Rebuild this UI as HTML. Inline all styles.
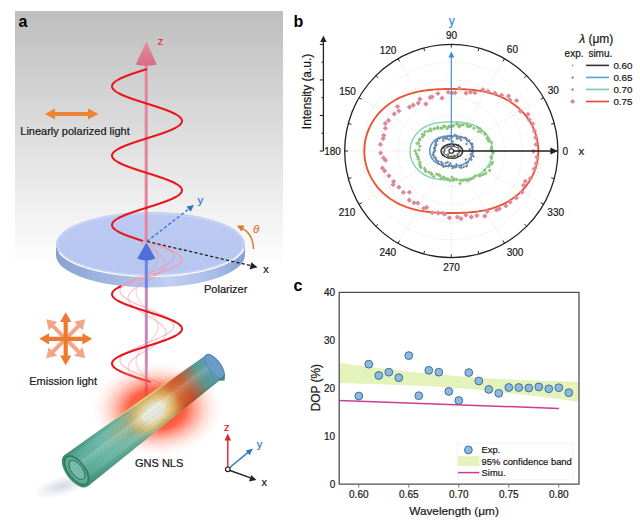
<!DOCTYPE html><html><head><meta charset="utf-8"><style>html,body{margin:0;padding:0;background:#fff;}svg{display:block}</style></head><body><svg width="640" height="528" viewBox="0 0 640 528"><rect width="640" height="528" fill="#fff"/><defs><linearGradient id="bgA" x1="0" y1="0" x2="0" y2="1"><stop offset="0" stop-color="#bebebe"/><stop offset="1" stop-color="#ffffff"/></linearGradient><linearGradient id="rim" x1="0" y1="0" x2="1" y2="0"><stop offset="0" stop-color="#88a2d2"/><stop offset="0.3" stop-color="#a4b8e4"/><stop offset="0.6" stop-color="#c0cef2"/><stop offset="0.85" stop-color="#a8bce6"/><stop offset="1" stop-color="#86a0d0"/></linearGradient><linearGradient id="face" x1="0" y1="0" x2="0" y2="1"><stop offset="0" stop-color="#bccaf2"/><stop offset="1" stop-color="#b6c6f0"/></linearGradient><linearGradient id="zhead" x1="0" y1="0" x2="0" y2="1"><stop offset="0" stop-color="#e68aa0"/><stop offset="1" stop-color="#d86c86"/></linearGradient><radialGradient id="glow" cx="0.5" cy="0.5" r="0.5"><stop offset="0" stop-color="#ff2400" stop-opacity="0.95"/><stop offset="0.42" stop-color="#ff3818" stop-opacity="0.78"/><stop offset="0.72" stop-color="#ff8a70" stop-opacity="0.3"/><stop offset="1" stop-color="#ffffff" stop-opacity="0"/></radialGradient><radialGradient id="shadow" cx="0.5" cy="0.5" r="0.5"><stop offset="0" stop-color="#7a8aa8" stop-opacity="0.32"/><stop offset="1" stop-color="#7a8aa8" stop-opacity="0"/></radialGradient><linearGradient id="edgeHi" x1="40" y1="0" x2="150" y2="0" gradientUnits="userSpaceOnUse"><stop offset="0" stop-color="#f0e080" stop-opacity="0"/><stop offset="0.5" stop-color="#f8e890" stop-opacity="0.9"/><stop offset="1" stop-color="#f0e080" stop-opacity="0"/></linearGradient><radialGradient id="warm" cx="0.5" cy="0.5" r="0.5"><stop offset="0" stop-color="#e8a040" stop-opacity="0.5"/><stop offset="0.6" stop-color="#d89048" stop-opacity="0.3"/><stop offset="1" stop-color="#d89048" stop-opacity="0"/></radialGradient><radialGradient id="hot" cx="0.5" cy="0.5" r="0.5"><stop offset="0" stop-color="#ffffff" stop-opacity="1"/><stop offset="0.4" stop-color="#fffbe6" stop-opacity="0.95"/><stop offset="0.72" stop-color="#ffdc88" stop-opacity="0.55"/><stop offset="1" stop-color="#ffb040" stop-opacity="0"/></radialGradient><linearGradient id="tubeAlong" x1="0" y1="0" x2="1" y2="0"><stop offset="0.000" stop-color="#56b09a"/><stop offset="0.207" stop-color="#74c4b4"/><stop offset="0.374" stop-color="#84ccbc"/><stop offset="0.443" stop-color="#b0cca2"/><stop offset="0.506" stop-color="#f2e2a8"/><stop offset="0.621" stop-color="#f8d488"/><stop offset="0.672" stop-color="#f6a050"/><stop offset="0.724" stop-color="#f05a24"/><stop offset="0.787" stop-color="#e04c2a"/><stop offset="0.851" stop-color="#9a7c6a"/><stop offset="0.902" stop-color="#5ca49a"/><stop offset="0.966" stop-color="#5ea4b4"/><stop offset="1.000" stop-color="#5a8ad0"/></linearGradient><linearGradient id="tubeAcross" x1="0" y1="0" x2="0" y2="1"><stop offset="0" stop-color="#1e5a40" stop-opacity="0.35"/><stop offset="0.18" stop-color="#1e5a40" stop-opacity="0"/><stop offset="0.42" stop-color="#ffffff" stop-opacity="0.2"/><stop offset="0.75" stop-color="#1e5a40" stop-opacity="0"/><stop offset="1" stop-color="#1e5a40" stop-opacity="0.42"/></linearGradient><pattern id="mesh" width="3" height="5.2" patternUnits="userSpaceOnUse"><path d="M0,0.87 L1,0 L2,0 L3,0.87 M1.5,2.6 L0.5,3.47 L0,3.47 M1.5,2.6 L2.5,3.47 L3,3.47 M0,0.87 L0,1.73 L1.5,2.6 M3,0.87 L3,1.73 L1.5,2.6 M0.5,3.47 L0.5,4.33 L1,5.2 M2.5,3.47 L2.5,4.33 L2,5.2" fill="none" stroke="#0e3a28" stroke-opacity="0.22" stroke-width="0.5"/></pattern></defs><rect x="15" y="11" width="268" height="256" fill="url(#bgA)"/><text x="18.5" y="27" font-family="Liberation Sans, sans-serif" font-size="16" font-weight="bold" fill="#000">a</text><path d="M45,114 L55,108.5 L55,112 L88,112 L88,108.5 L98.5,114 L88,119.5 L88,116 L55,116 L55,119.5 Z" fill="#ee8236"/><text x="20.3" y="135.2" font-family="Liberation Sans, sans-serif" font-size="11" fill="#1a1a1a" stroke="#1a1a1a" stroke-width="0.22">Linearly polarized light</text><path d="M56,244.2 L56,255.2 A94.5,32.2 0 0 0 245,255.2 L245,244.2 A94.5,32.2 0 0 1 56,244.2 Z" fill="url(#rim)"/><ellipse cx="150.5" cy="244.2" rx="94.5" ry="32.2" fill="url(#face)"/><ellipse cx="150.5" cy="244.2" rx="92.9" ry="30.6" fill="none" stroke="#cbd6f6" stroke-width="1.6" stroke-opacity="0.8"/><path d="M59.22,252.53 A94.5,32.2 0 0 0 244.08,248.68" fill="none" stroke="#ffffff" stroke-width="1.4" stroke-opacity="0.95"/><path d="M144.62,241.5 L147.79,242.5 L150.96,243.5 L154.09,244.5 L157.16,245.5 L160.16,246.5 L163.04,247.5 L165.79,248.5 L168.39,249.5 L170.81,250.5 L173.03,251.5 L175.04,252.5 L176.82,253.5 L178.36,254.5 L179.64,255.5 L180.65,256.5 L181.38,257.5 L181.83,258.5 L182,259.5 L181.88,260.5 L181.47,261.5 L180.78,262.5 L179.81,263.5 L178.57,264.5 L177.07,265.5 L175.32,266.5 L173.35,267.5 L171.15,268.5 L168.76,269.5 L166.19,270.5 L163.46,271.5 L160.6,272.5 L157.62,273.5 L154.56,274.5 L151.43,275.5 L148.27,276.5 L145.1,277.5 L141.94,278.5 L138.83,279.5 L135.78,280.5 L132.82,281.5 L129.98,282.5 L127.28,283.5 L124.75,284.5 L122.39,285.5" fill="none" stroke="#f2a0b2" stroke-width="1.5"/><path d="M156.21,243 L158.47,244 L160.63,245 L162.69,246 L164.61,247 L166.39,248 L168.01,249 L169.46,250 L170.73,251 L171.8,252 L172.66,253 L173.32,254 L173.76,255 L173.97,256 L173.97,257 L173.75,258 L173.3,259 L172.64,260 L171.77,261 L170.7,262 L169.43,263 L167.97,264 L166.35,265 L164.56,266 L162.64,267 L160.58,268 L158.41,269 L156.15,270 L153.81,271 L151.42,272 L148.99,273 L146.54,274 L144.1,275 L141.68,276 L139.3,277 L136.99,278 L134.76,279 L132.63,280 L130.62,281 L128.75,282 L127.02,283 L125.46,284 L124.07,285 L122.88,286 L121.88,287 L121.08,288 L120.51,289 L120.14,290 L120,291 L120.08,292 L120.38,293 L120.9,294 L121.64,295 L122.58,296 L123.73,297 L125.06,298 L126.58,299 L128.26,300 L130.1,301 L132.07,302 L134.17,303 L136.37,304 L138.66,305 L141.02,306 L143.43,307 L145.87,308 L148.32,309 L150.75,310 L153.16,311 L155.51,312 L157.8,313 L159.99,314 L162.08,315 L164.05,316 L165.88,317 L167.55,318 L169.05,319 L170.37,320 L171.5,321 L172.42,322 L173.14,323 L173.65,324 L173.93,325 L173.99,326 L173.84,327 L173.46,328 L172.86,329 L172.05,330 L171.04,331 L169.83,332 L168.43,333 L166.85,334 L165.12,335 L163.23,336 L161.21,337 L159.07,338 L156.83,339 L154.52,340 L152.14,341 L149.72,342 L147.27,343 L144.83,344 L142.4,345 L140.01,346 L137.68,347 L135.42,348 L133.26,349 L131.21,350 L129.29,351 L127.52,352 L125.91,353 L124.47,354 L123.21,355 L122.16,356 L121.3,357 L120.66,358 L120.23,359 L120.02,360 L120.04,361 L120.27,362 L120.73,363 L121.4,364 L122.28,365 L123.36,366 L124.64,367 L126.1,368 L127.74,369 L129.53,370 L131.46,371 L133.53,372 L135.7,373 L137.97,374 L140.31,375 L142.71,376 L145.14,377 L147.58,378 L150.02,379 L152.44,380 L154.81,381 L157.12,382 L159.35,383 L161.47,384" fill="none" stroke="#f4909e" stroke-width="1.1" stroke-opacity="0.6"/><path d="M141.71,243 L143.39,244 L145.09,245 L146.81,246 L148.53,247 L150.24,248 L151.92,249 L153.56,250 L155.15,251 L156.67,252 L158.11,253 L159.46,254 L160.71,255 L161.84,256 L162.86,257 L163.74,258 L164.48,259 L165.09,260 L165.54,261 L165.84,262 L165.99,263 L165.98,264 L165.81,265 L165.49,266 L165.02,267 L164.4,268 L163.63,269 L162.73,270 L161.7,271 L160.55,272 L159.29,273 L157.93,274 L156.48,275 L154.95,276 L153.35,277 L151.71,278 L150.02,279 L148.31,280 L146.59,281 L144.87,282 L143.17,283 L141.5,284 L139.87,285 L138.31,286 L136.82,287 L135.4,288 L134.09,289 L132.88,290 L131.79,291 L130.82,292 L129.98,293 L129.29,294 L128.74,295 L128.34,296 L128.09,297 L128,298 L128.07,299 L128.29,300 L128.66,301 L129.18,302 L129.86,303 L130.67,304 L131.61,305 L132.69,306 L133.88,307 L135.17,308 L136.57,309 L138.05,310 L139.6,311 L141.22,312 L142.88,313 L144.58,314 L146.29,315 L148.02,316 L149.73,317 L151.42,318 L153.08,319 L154.68,320 L156.22,321 L157.69,322 L159.07,323 L160.35,324 L161.52,325 L162.57,326 L163.49,327 L164.28,328 L164.92,329 L165.42,330 L165.77,331 L165.96,332 L165.99,333 L165.88,334 L165.6,335 L165.17,336 L164.6,337 L163.88,338 L163.02,339 L162.03,340 L160.91,341 L159.68,342 L158.35,343 L156.92,344 L155.41,345 L153.84,346 L152.2,347 L150.53,348 L148.82,349 L147.1,350 L145.38,351 L143.68,352 L142,353 L140.36,354 L138.77,355 L137.26,356 L135.82,357 L134.47,358 L133.23,359 L132.1,360 L131.1,361 L130.22,362 L129.48,363 L128.89,364 L128.44,365 L128.15,366 L128.01,367 L128.03,368 L128.2,369 L128.53,370 L129.01,371 L129.64,372 L130.41,373 L131.32,374 L132.35,375 L133.51,376 L134.77,377 L136.14,378 L137.6,379 L139.13,380 L140.73,381 L142.38,382 L144.07,383 L145.78,384" fill="none" stroke="#f4909e" stroke-width="1.1" stroke-opacity="0.55"/><path d="M149.91,243 L150.86,244 L151.78,245 L152.66,246 L153.49,247 L154.26,248 L154.98,249 L155.63,250 L156.22,251 L156.72,252 L157.15,253 L157.49,254 L157.75,255 L157.92,256 L157.99,257 L157.98,258 L157.88,259 L157.69,260 L157.41,261 L157.04,262 L156.6,263 L156.07,264 L155.47,265 L154.8,266 L154.07,267 L153.27,268 L152.43,269 L151.54,270 L150.62,271 L149.66,272 L148.68,273 L147.69,274 L146.69,275 L145.7,276 L144.72,277 L143.75,278 L142.81,279 L141.91,280 L141.05,281 L140.23,282 L139.48,283 L138.78,284 L138.15,285 L137.6,286 L137.12,287 L136.72,288 L136.41,289 L136.18,290 L136.05,291 L136,292 L136.04,293 L136.18,294 L136.4,295 L136.71,296 L137.1,297 L137.58,298 L138.13,299 L138.76,300 L139.45,301 L140.2,302 L141.02,303 L141.88,304 L142.78,305 L143.72,306 L144.68,307 L145.66,308 L146.66,309 L147.65,310 L148.65,311 L149.62,312 L150.58,313 L151.51,314 L152.4,315 L153.24,316 L154.04,317 L154.77,318 L155.45,319 L156.05,320 L156.58,321 L157.03,322 L157.4,323 L157.68,324 L157.87,325 L157.98,326 L158,327 L157.92,328 L157.76,329 L157.5,330 L157.16,331 L156.74,332 L156.24,333 L155.66,334 L155.01,335 L154.29,336 L153.52,337 L152.69,338 L151.81,339 L150.9,340 L149.95,341 L148.98,342 L147.99,343 L146.99,344 L146,345 L145.01,346 L144.04,347 L143.09,348 L142.18,349 L141.3,350 L140.47,351 L139.7,352 L138.98,353 L138.33,354 L137.76,355 L137.25,356 L136.83,357 L136.49,358 L136.24,359 L136.08,360 L136,361 L136.02,362 L136.13,363 L136.32,364 L136.61,365 L136.98,366 L137.43,367 L137.96,368 L138.56,369 L139.23,370 L139.97,371 L140.77,372 L141.61,373 L142.5,374 L143.43,375 L144.39,376 L145.37,377 L146.36,378 L147.35,379 L148.35,380 L149.33,381 L150.3,382 L151.23,383 L152.13,384" fill="none" stroke="#f4909e" stroke-width="1.1" stroke-opacity="0.45"/><line x1="146.3" y1="258" x2="146.3" y2="288" stroke="#6e86e0" stroke-width="3"/><line x1="146.2" y1="62" x2="146.2" y2="241.5" stroke="#e5849c" stroke-width="3"/><path d="M146.4,41.4 L135.8,64.5 Q146.3,67 156.8,64.5 Z" fill="url(#zhead)"/><text x="157.8" y="45" font-family="Liberation Sans, sans-serif" font-size="11" fill="#e0303a" stroke="#e0303a" stroke-width="0.22">z</text><path d="M147,69 L143.83,70 L140.69,71 L137.6,72 L134.58,73 L131.67,74 L128.89,75 L126.25,76 L123.78,77 L121.51,78 L119.44,79 L117.6,80 L116,81 L114.66,82 L113.58,83 L112.77,84 L112.25,85 L112.02,86 L112.07,87 L112.4,88 L113.02,89 L113.92,90 L115.1,91 L116.53,92 L118.22,93 L120.14,94 L122.28,95 L124.62,96 L127.15,97 L129.84,98 L132.68,99 L135.63,100 L138.67,101 L141.78,102 L144.94,103 L148.11,104 L151.27,105 L154.4,106 L157.47,107 L160.45,108 L163.32,109 L166.06,110 L168.64,111 L171.04,112 L173.24,113 L175.23,114 L176.99,115 L178.5,116 L179.75,117 L180.73,118 L181.44,119 L181.86,120 L182,121 L181.85,122 L181.41,123 L180.69,124 L179.7,125 L178.43,126 L176.91,127 L175.14,128 L173.14,129 L170.92,130 L168.51,131 L165.92,132 L163.18,133 L160.3,134 L157.32,135 L154.25,136 L151.12,137 L147.95,138 L144.78,139 L141.63,140 L138.52,141 L135.48,142 L132.53,143 L129.71,144 L127.02,145 L124.5,146 L122.17,147 L120.04,148 L118.13,149 L116.45,150 L115.03,151 L113.87,152 L112.99,153 L112.38,154 L112.06,155 L112.02,156 L112.27,157 L112.81,158 L113.63,159 L114.72,160 L116.07,161 L117.69,162 L119.54,163 L121.61,164 L123.9,165 L126.38,166 L129.02,167 L131.81,168 L134.73,169 L137.75,170 L140.84,171 L143.99,172 L147.16,173 L150.33,174 L153.47,175 L156.56,176 L159.57,177 L162.47,178 L165.25,179 L167.88,180 L170.34,181 L172.6,182 L174.66,183 L176.49,184 L178.07,185 L179.4,186 L180.47,187 L181.26,188 L181.77,189 L181.99,190 L181.92,191 L181.57,192 L180.94,193 L180.02,194 L178.84,195 L177.39,196 L175.69,197 L173.76,198 L171.61,199 L169.25,200 L166.72,201 L164.02,202 L161.18,203 L158.22,204 L155.17,205 L152.06,206 L148.9,207 L145.73,208 L142.57,209 L139.44,210 L136.38,211 L133.4,212 L130.54,213 L127.81,214 L125.24,215 L122.85,216 L120.65,217 L118.68,218 L116.93,219 L115.43,220 L114.19,221 L113.22,222 L112.53,223 L112.12,224 L112,225 L112.17,226 L112.62,227 L113.35,228 L114.36,229 L115.64,230 L117.18,231 L118.96,232 L120.97,233 L123.19,234 L125.61,235 L128.21,236 L130.96,237 L133.84,238 L136.84,239 L139.91,240 L143.04,241" fill="none" stroke="#e8161c" stroke-width="2"/><path d="M146.4,242.5 L137.2,258.6 Q146.3,262.5 155.5,258.6 Z" fill="#4e6fd6"/><line x1="147" y1="241.4" x2="251.5" y2="265.8" stroke="#222" stroke-width="1.3" stroke-dasharray="3.2,2.2"/><path d="M257.5,267.2 L249.6,269.4 L251.3,262.2 Z" fill="#222"/><line x1="147" y1="241.4" x2="189.6" y2="208.3" stroke="#2d76c8" stroke-width="1.3" stroke-dasharray="3.2,2.2"/><path d="M194,205 L190.6,211.8 L186.6,206.6 Z" fill="#2d76c8"/><text x="197.6" y="203.6" font-family="Liberation Sans, sans-serif" font-size="11.5" fill="#2d76c8" stroke="#2d76c8" stroke-width="0.22">y</text><text x="263.2" y="272.5" font-family="Liberation Sans, sans-serif" font-size="11" fill="#222" stroke="#222" stroke-width="0.22">x</text><path d="M253.5,249 Q253,233 241,228" fill="none" stroke="#d87a30" stroke-width="1.4"/><path d="M237,225.5 L244.5,225.6 L241.3,231.5 Z" fill="#d87a30"/><text x="253" y="233.3" font-family="Liberation Sans, sans-serif" font-size="11.5" font-style="italic" fill="#d87a30" stroke="#d87a30" stroke-width="0.22">θ</text><text x="204" y="293.4" font-family="Liberation Sans, sans-serif" font-size="11" fill="#1a1a1a" stroke="#1a1a1a" stroke-width="0.22">Polarizer</text><line x1="146.3" y1="288" x2="146.3" y2="398" stroke="#e08aa8" stroke-width="3"/><line x1="146.3" y1="288" x2="146.3" y2="398" stroke="#9a88dc" stroke-width="1"/><path d="M121.29,286 L119.24,287 L117.43,288 L115.85,289 L114.54,290 L113.49,291 L112.71,292 L112.22,293 L112.01,294 L112.09,295 L112.45,296 L113.1,297 L114.03,298 L115.23,299 L116.69,300 L118.4,301 L120.34,302 L122.5,303 L124.87,304 L127.42,305 L130.12,306 L132.97,307 L135.93,308 L138.98,309 L142.1,310 L145.26,311 L148.43,312 L151.59,313 L154.71,314 L157.77,315 L160.74,316 L163.6,317 L166.32,318 L168.88,319 L171.27,320 L173.45,321 L175.42,322 L177.15,323 L178.64,324 L179.86,325 L180.82,326 L181.5,327 L181.89,328 L182,329 L181.82,330 L181.35,331 L180.6,332 L179.58,333 L178.29,334 L176.74,335 L174.95,336 L172.92,337 L170.69,338 L168.26,339 L165.65,340 L162.9,341 L160.01,342 L157.01,343 L153.94,344 L150.8,345 L147.63,346 L144.46,347 L141.31,348 L138.21,349 L135.18,350 L132.24,351 L129.43,352 L126.76,353 L124.26,354 L121.94,355 L119.83,356 L117.95,357 L116.3,358 L114.9,359 L113.77,360 L112.91,361 L112.33,362 L112.04,363 L112.03,364 L112.31,365 L112.88,366 L113.72,367 L114.84,368 L116.22,369 L117.86,370 L119.74,371 L121.83,372 L124.14,373 L126.63,374 L129.29,375 L132.1,376 L135.03,377 L138.06,378 L141.16,379 L144.31,380 L147.48,381 L150.64,382" fill="none" stroke="#e8161c" stroke-width="2"/><path transform="translate(65.7,338.8) rotate(45)" d="M0,-2.0 L18.0,-2.0 L18.0,-6.0 L27.5,0 L18.0,6.0 L18.0,2.0 L0,2.0 Z" fill="#f3a585"/><path transform="translate(65.7,338.8) rotate(135)" d="M0,-2.0 L18.0,-2.0 L18.0,-6.0 L27.5,0 L18.0,6.0 L18.0,2.0 L0,2.0 Z" fill="#f3a585"/><path transform="translate(65.7,338.8) rotate(225)" d="M0,-2.0 L18.0,-2.0 L18.0,-6.0 L27.5,0 L18.0,6.0 L18.0,2.0 L0,2.0 Z" fill="#f3a585"/><path transform="translate(65.7,338.8) rotate(315)" d="M0,-2.0 L18.0,-2.0 L18.0,-6.0 L27.5,0 L18.0,6.0 L18.0,2.0 L0,2.0 Z" fill="#f3a585"/><path transform="translate(65.7,338.8) rotate(0)" d="M0,-2.1 L16.7,-2.1 L16.7,-5.6 L26.5,0 L16.7,5.6 L16.7,2.1 L0,2.1 Z" fill="#ef7a2e"/><path transform="translate(65.7,338.8) rotate(90)" d="M0,-2.1 L16.7,-2.1 L16.7,-5.6 L26.5,0 L16.7,5.6 L16.7,2.1 L0,2.1 Z" fill="#ef7a2e"/><path transform="translate(65.7,338.8) rotate(180)" d="M0,-2.1 L16.7,-2.1 L16.7,-5.6 L26.5,0 L16.7,5.6 L16.7,2.1 L0,2.1 Z" fill="#ef7a2e"/><path transform="translate(65.7,338.8) rotate(270)" d="M0,-2.1 L16.7,-2.1 L16.7,-5.6 L26.5,0 L16.7,5.6 L16.7,2.1 L0,2.1 Z" fill="#ef7a2e"/><text x="29.2" y="385.3" font-family="Liberation Sans, sans-serif" font-size="11" fill="#1a1a1a" stroke="#1a1a1a" stroke-width="0.22">Emission light</text><ellipse cx="157" cy="409" rx="68" ry="49" fill="url(#glow)"/><ellipse cx="0" cy="0" rx="30" ry="10" transform="translate(62,486) rotate(-15)" fill="url(#shadow)"/><g transform="translate(76,470.7) rotate(-37)"><path d="M0,-19.5 L174,-14 L174,14 L0,19.5 Z" fill="url(#tubeAlong)"/><ellipse cx="100" cy="-4" rx="62" ry="19" fill="url(#warm)"/><ellipse cx="97.5" cy="0" rx="30" ry="17" fill="url(#hot)"/><path d="M0,-19.5 L174,-14 L174,14 L0,19.5 Z" fill="url(#tubeAcross)"/><path d="M0,-19.5 L174,-14 L174,14 L0,19.5 Z" fill="url(#mesh)"/><path d="M40,-18.2 L150,-14.8" stroke="url(#edgeHi)" stroke-width="1.6" fill="none"/><ellipse cx="173.5" cy="0" rx="6" ry="14" fill="#6a9cc4" stroke="#5a88cc" stroke-width="1.3"/><path d="M168,14 L177,12.5 L173,17.5 Z" fill="#3e8a62"/><ellipse cx="0" cy="0" rx="9.9" ry="19.5" fill="#40946e"/><ellipse cx="0.6" cy="0" rx="8.2" ry="16.5" fill="#62b49c" stroke="#2a6e50" stroke-width="0.9"/><ellipse cx="1.2" cy="0" rx="5.6" ry="11.2" fill="#7cc6b6" stroke="#2a6e50" stroke-width="0.9"/><ellipse cx="0" cy="0" rx="9.9" ry="19.5" fill="url(#mesh)"/></g><text x="135" y="466.8" font-family="Liberation Sans, sans-serif" font-size="11" fill="#1a1a1a" stroke="#1a1a1a" stroke-width="0.22">GNS NLS</text><line x1="227.8" y1="467" x2="227.8" y2="439" stroke="#e0202a" stroke-width="1.4"/><path d="M227.8,433.5 L231,440.5 L224.6,440.5 Z" fill="#e0202a"/><line x1="229.5" y1="467.8" x2="249" y2="451.6" stroke="#2a7ac8" stroke-width="1.4"/><path d="M253,448.6 L249.6,455.2 L245.8,450.4 Z" fill="#2a7ac8"/><line x1="230" y1="470.5" x2="250.5" y2="477.8" stroke="#222" stroke-width="1.4"/><path d="M256.5,480 L249,481.6 L251.2,475 Z" fill="#222"/><circle cx="227.8" cy="469.3" r="2.3" fill="#fff" stroke="#222" stroke-width="1.2"/><text x="224" y="431.4" font-family="Liberation Sans, sans-serif" font-size="11" fill="#e0202a" stroke="#e0202a" stroke-width="0.22">z</text><text x="256.8" y="448" font-family="Liberation Sans, sans-serif" font-size="11" fill="#2a7ac8" stroke="#2a7ac8" stroke-width="0.22">y</text><text x="261.4" y="486" font-family="Liberation Sans, sans-serif" font-size="11" fill="#222" stroke="#222" stroke-width="0.22">x</text><text x="293.6" y="26.8" font-family="Liberation Sans, sans-serif" font-size="16" font-weight="bold" fill="#000">b</text><line x1="323.4" y1="39" x2="323.4" y2="151" stroke="#222" stroke-width="1.3"/><path d="M323.4,35.5 L326.6,42 L320.2,42 Z" fill="#222"/><line x1="319.8" y1="151" x2="323.4" y2="151" stroke="#222" stroke-width="1.1"/><line x1="321.6" y1="133.23" x2="323.4" y2="133.23" stroke="#222" stroke-width="1.1"/><line x1="319.8" y1="115.47" x2="323.4" y2="115.47" stroke="#222" stroke-width="1.1"/><line x1="321.6" y1="97.7" x2="323.4" y2="97.7" stroke="#222" stroke-width="1.1"/><line x1="319.8" y1="79.93" x2="323.4" y2="79.93" stroke="#222" stroke-width="1.1"/><line x1="321.6" y1="62.17" x2="323.4" y2="62.17" stroke="#222" stroke-width="1.1"/><line x1="319.8" y1="44.4" x2="323.4" y2="44.4" stroke="#222" stroke-width="1.1"/><text transform="translate(311,91.5) rotate(-90)" text-anchor="middle" font-family="Liberation Sans, sans-serif" font-size="11.9" fill="#1a1a1a" stroke="#1a1a1a" stroke-width="0.22">Intensity (a.u.)</text><circle cx="451.3" cy="151.0" r="17.77" fill="none" stroke="#d0d0d0" stroke-width="0.7" stroke-dasharray="1.2,2.2"/><circle cx="451.3" cy="151.0" r="35.53" fill="none" stroke="#d0d0d0" stroke-width="0.7" stroke-dasharray="1.2,2.2"/><circle cx="451.3" cy="151.0" r="53.3" fill="none" stroke="#d0d0d0" stroke-width="0.7" stroke-dasharray="1.2,2.2"/><circle cx="451.3" cy="151.0" r="71.07" fill="none" stroke="#d0d0d0" stroke-width="0.7" stroke-dasharray="1.2,2.2"/><circle cx="451.3" cy="151.0" r="88.83" fill="none" stroke="#d0d0d0" stroke-width="0.7" stroke-dasharray="1.2,2.2"/><line x1="451.3" y1="151.0" x2="557.9" y2="151" stroke="#d0d0d0" stroke-width="0.7" stroke-dasharray="1.2,2.2"/><line x1="451.3" y1="151.0" x2="543.62" y2="97.7" stroke="#d0d0d0" stroke-width="0.7" stroke-dasharray="1.2,2.2"/><line x1="451.3" y1="151.0" x2="504.6" y2="58.68" stroke="#d0d0d0" stroke-width="0.7" stroke-dasharray="1.2,2.2"/><line x1="451.3" y1="151.0" x2="451.3" y2="44.4" stroke="#d0d0d0" stroke-width="0.7" stroke-dasharray="1.2,2.2"/><line x1="451.3" y1="151.0" x2="398" y2="58.68" stroke="#d0d0d0" stroke-width="0.7" stroke-dasharray="1.2,2.2"/><line x1="451.3" y1="151.0" x2="358.98" y2="97.7" stroke="#d0d0d0" stroke-width="0.7" stroke-dasharray="1.2,2.2"/><line x1="451.3" y1="151.0" x2="344.7" y2="151" stroke="#d0d0d0" stroke-width="0.7" stroke-dasharray="1.2,2.2"/><line x1="451.3" y1="151.0" x2="358.98" y2="204.3" stroke="#d0d0d0" stroke-width="0.7" stroke-dasharray="1.2,2.2"/><line x1="451.3" y1="151.0" x2="398" y2="243.32" stroke="#d0d0d0" stroke-width="0.7" stroke-dasharray="1.2,2.2"/><line x1="451.3" y1="151.0" x2="451.3" y2="257.6" stroke="#d0d0d0" stroke-width="0.7" stroke-dasharray="1.2,2.2"/><line x1="451.3" y1="151.0" x2="504.6" y2="243.32" stroke="#d0d0d0" stroke-width="0.7" stroke-dasharray="1.2,2.2"/><line x1="451.3" y1="151.0" x2="543.62" y2="204.3" stroke="#d0d0d0" stroke-width="0.7" stroke-dasharray="1.2,2.2"/><circle cx="451.3" cy="151.0" r="106.6" fill="none" stroke="#222" stroke-width="1.3"/><line x1="557.9" y1="151" x2="554.7" y2="151" stroke="#222" stroke-width="1"/><line x1="554.27" y1="123.41" x2="551.18" y2="124.24" stroke="#222" stroke-width="1"/><line x1="543.62" y1="97.7" x2="540.85" y2="99.3" stroke="#222" stroke-width="1"/><line x1="526.68" y1="75.62" x2="524.41" y2="77.89" stroke="#222" stroke-width="1"/><line x1="504.6" y1="58.68" x2="503" y2="61.45" stroke="#222" stroke-width="1"/><line x1="478.89" y1="48.03" x2="478.06" y2="51.12" stroke="#222" stroke-width="1"/><line x1="451.3" y1="44.4" x2="451.3" y2="47.6" stroke="#222" stroke-width="1"/><line x1="423.71" y1="48.03" x2="424.54" y2="51.12" stroke="#222" stroke-width="1"/><line x1="398" y1="58.68" x2="399.6" y2="61.45" stroke="#222" stroke-width="1"/><line x1="375.92" y1="75.62" x2="378.19" y2="77.89" stroke="#222" stroke-width="1"/><line x1="358.98" y1="97.7" x2="361.75" y2="99.3" stroke="#222" stroke-width="1"/><line x1="348.33" y1="123.41" x2="351.42" y2="124.24" stroke="#222" stroke-width="1"/><line x1="344.7" y1="151" x2="347.9" y2="151" stroke="#222" stroke-width="1"/><line x1="348.33" y1="178.59" x2="351.42" y2="177.76" stroke="#222" stroke-width="1"/><line x1="358.98" y1="204.3" x2="361.75" y2="202.7" stroke="#222" stroke-width="1"/><line x1="375.92" y1="226.38" x2="378.19" y2="224.11" stroke="#222" stroke-width="1"/><line x1="398" y1="243.32" x2="399.6" y2="240.55" stroke="#222" stroke-width="1"/><line x1="423.71" y1="253.97" x2="424.54" y2="250.88" stroke="#222" stroke-width="1"/><line x1="451.3" y1="257.6" x2="451.3" y2="254.4" stroke="#222" stroke-width="1"/><line x1="478.89" y1="253.97" x2="478.06" y2="250.88" stroke="#222" stroke-width="1"/><line x1="504.6" y1="243.32" x2="503" y2="240.55" stroke="#222" stroke-width="1"/><line x1="526.68" y1="226.38" x2="524.41" y2="224.11" stroke="#222" stroke-width="1"/><line x1="543.62" y1="204.3" x2="540.85" y2="202.7" stroke="#222" stroke-width="1"/><line x1="554.27" y1="178.59" x2="551.18" y2="177.76" stroke="#222" stroke-width="1"/><text x="565.3" y="154.7" text-anchor="middle" font-family="Liberation Sans, sans-serif" font-size="10" fill="#1a1a1a" stroke="#1a1a1a" stroke-width="0.22">0</text><text x="553.2" y="93.7" text-anchor="middle" font-family="Liberation Sans, sans-serif" font-size="10" fill="#1a1a1a" stroke="#1a1a1a" stroke-width="0.22">30</text><text x="512.4" y="53.4" text-anchor="middle" font-family="Liberation Sans, sans-serif" font-size="10" fill="#1a1a1a" stroke="#1a1a1a" stroke-width="0.22">60</text><text x="451.5" y="38.6" text-anchor="middle" font-family="Liberation Sans, sans-serif" font-size="10" fill="#1a1a1a" stroke="#1a1a1a" stroke-width="0.22">90</text><text x="388.1" y="53.7" text-anchor="middle" font-family="Liberation Sans, sans-serif" font-size="10" fill="#1a1a1a" stroke="#1a1a1a" stroke-width="0.22">120</text><text x="347.5" y="94.5" text-anchor="middle" font-family="Liberation Sans, sans-serif" font-size="10" fill="#1a1a1a" stroke="#1a1a1a" stroke-width="0.22">150</text><text x="332.6" y="154.7" text-anchor="middle" font-family="Liberation Sans, sans-serif" font-size="10" fill="#1a1a1a" stroke="#1a1a1a" stroke-width="0.22">180</text><text x="347" y="215.5" text-anchor="middle" font-family="Liberation Sans, sans-serif" font-size="10" fill="#1a1a1a" stroke="#1a1a1a" stroke-width="0.22">210</text><text x="387.8" y="256.2" text-anchor="middle" font-family="Liberation Sans, sans-serif" font-size="10" fill="#1a1a1a" stroke="#1a1a1a" stroke-width="0.22">240</text><text x="451.6" y="271.1" text-anchor="middle" font-family="Liberation Sans, sans-serif" font-size="10" fill="#1a1a1a" stroke="#1a1a1a" stroke-width="0.22">270</text><text x="515.1" y="256" text-anchor="middle" font-family="Liberation Sans, sans-serif" font-size="10" fill="#1a1a1a" stroke="#1a1a1a" stroke-width="0.22">300</text><text x="555.7" y="215.6" text-anchor="middle" font-family="Liberation Sans, sans-serif" font-size="10" fill="#1a1a1a" stroke="#1a1a1a" stroke-width="0.22">330</text><path d="M538.3,151 L538.22,147.96 L537.97,144.94 L537.55,141.93 L536.97,138.96 L536.24,136.02 L535.34,133.14 L534.3,130.31 L533.1,127.54 L531.77,124.85 L530.31,122.24 L528.71,119.72 L527,117.3 L525.18,114.97 L523.25,112.74 L521.23,110.62 L519.13,108.62 L516.95,106.72 L514.7,104.94 L512.39,103.27 L510.03,101.72 L507.64,100.28 L505.2,98.94 L502.75,97.72 L500.28,96.61 L497.79,95.59 L495.31,94.68 L492.82,93.85 L490.34,93.12 L487.88,92.47 L485.43,91.89 L482.99,91.39 L480.59,90.96 L478.2,90.58 L475.84,90.26 L473.51,89.99 L471.2,89.76 L468.91,89.58 L466.65,89.42 L464.42,89.3 L462.2,89.2 L460,89.12 L457.81,89.07 L455.63,89.03 L453.46,89.01 L451.3,89 L449.14,89.01 L446.97,89.03 L444.79,89.07 L442.6,89.12 L440.4,89.2 L438.18,89.3 L435.95,89.42 L433.69,89.58 L431.4,89.76 L429.09,89.99 L426.76,90.26 L424.4,90.58 L422.01,90.96 L419.61,91.39 L417.18,91.89 L414.72,92.47 L412.26,93.12 L409.78,93.85 L407.29,94.68 L404.81,95.59 L402.32,96.61 L399.85,97.72 L397.4,98.94 L394.96,100.28 L392.57,101.72 L390.21,103.27 L387.9,104.94 L385.65,106.72 L383.47,108.62 L381.37,110.62 L379.35,112.74 L377.42,114.97 L375.6,117.3 L373.89,119.72 L372.29,122.24 L370.83,124.85 L369.5,127.54 L368.3,130.31 L367.26,133.14 L366.36,136.02 L365.63,138.96 L365.05,141.93 L364.63,144.94 L364.38,147.96 L364.3,151 L364.38,154.04 L364.63,157.06 L365.05,160.07 L365.63,163.04 L366.36,165.98 L367.26,168.86 L368.3,171.69 L369.5,174.46 L370.83,177.15 L372.29,179.76 L373.89,182.28 L375.6,184.7 L377.42,187.03 L379.35,189.26 L381.37,191.38 L383.47,193.38 L385.65,195.28 L387.9,197.06 L390.21,198.73 L392.57,200.28 L394.96,201.72 L397.4,203.06 L399.85,204.28 L402.32,205.39 L404.81,206.41 L407.29,207.32 L409.78,208.15 L412.26,208.88 L414.72,209.53 L417.17,210.11 L419.61,210.61 L422.01,211.04 L424.4,211.42 L426.76,211.74 L429.09,212.01 L431.4,212.24 L433.69,212.42 L435.95,212.58 L438.18,212.7 L440.4,212.8 L442.6,212.88 L444.79,212.93 L446.97,212.97 L449.14,212.99 L451.3,213 L453.46,212.99 L455.63,212.97 L457.81,212.93 L460,212.88 L462.2,212.8 L464.42,212.7 L466.65,212.58 L468.91,212.42 L471.2,212.24 L473.51,212.01 L475.84,211.74 L478.2,211.42 L480.59,211.04 L482.99,210.61 L485.43,210.11 L487.88,209.53 L490.34,208.88 L492.82,208.15 L495.31,207.32 L497.79,206.41 L500.28,205.39 L502.75,204.28 L505.2,203.06 L507.64,201.72 L510.03,200.28 L512.39,198.73 L514.7,197.06 L516.95,195.28 L519.13,193.38 L521.23,191.38 L523.25,189.26 L525.18,187.03 L527,184.7 L528.71,182.28 L530.31,179.76 L531.77,177.15 L533.1,174.46 L534.3,171.69 L535.34,168.86 L536.24,165.98 L536.97,163.04 L537.55,160.07 L537.97,157.06 L538.22,154.04 L538.3,151Z" fill="none" stroke="#ea5535" stroke-width="1.9"/><path d="M533.44,148.63 L536.04,151.23 L533.44,153.83 L530.84,151.23 Z" fill="#dc8898"/><path d="M535.97,141.91 L538.57,144.51 L535.97,147.11 L533.37,144.51 Z" fill="#dc8898"/><path d="M535.68,134.99 L538.28,137.59 L535.68,140.19 L533.08,137.59 Z" fill="#dc8898"/><path d="M534.46,128.37 L537.06,130.97 L534.46,133.57 L531.86,130.97 Z" fill="#dc8898"/><path d="M532.65,121.26 L535.25,123.86 L532.65,126.46 L530.05,123.86 Z" fill="#dc8898"/><path d="M529.27,117.17 L531.87,119.77 L529.27,122.37 L526.67,119.77 Z" fill="#dc8898"/><path d="M528,111.67 L530.6,114.27 L528,116.87 L525.4,114.27 Z" fill="#dc8898"/><path d="M520.41,108.62 L523.01,111.22 L520.41,113.82 L517.81,111.22 Z" fill="#dc8898"/><path d="M516.63,97.98 L519.23,100.58 L516.63,103.18 L514.03,100.58 Z" fill="#dc8898"/><path d="M509.98,97.57 L512.58,100.17 L509.98,102.77 L507.38,100.17 Z" fill="#dc8898"/><path d="M508.56,93.44 L511.16,96.04 L508.56,98.64 L505.96,96.04 Z" fill="#dc8898"/><path d="M501.59,92.57 L504.19,95.17 L501.59,97.77 L498.99,95.17 Z" fill="#dc8898"/><path d="M494.96,90.59 L497.56,93.19 L494.96,95.79 L492.36,93.19 Z" fill="#dc8898"/><path d="M488.07,88.68 L490.67,91.28 L488.07,93.88 L485.47,91.28 Z" fill="#dc8898"/><path d="M482.73,87.26 L485.33,89.86 L482.73,92.46 L480.13,89.86 Z" fill="#dc8898"/><path d="M474.88,90.08 L477.48,92.68 L474.88,95.28 L472.28,92.68 Z" fill="#dc8898"/><path d="M470.46,89.44 L473.06,92.04 L470.46,94.64 L467.86,92.04 Z" fill="#dc8898"/><path d="M466.02,90.48 L468.62,93.08 L466.02,95.68 L463.42,93.08 Z" fill="#dc8898"/><path d="M459.31,85.78 L461.91,88.38 L459.31,90.98 L456.71,88.38 Z" fill="#dc8898"/><path d="M455.15,90.24 L457.75,92.84 L455.15,95.44 L452.55,92.84 Z" fill="#dc8898"/><path d="M451.94,90.46 L454.54,93.06 L451.94,95.66 L449.34,93.06 Z" fill="#dc8898"/><path d="M448.2,89.67 L450.8,92.27 L448.2,94.87 L445.6,92.27 Z" fill="#dc8898"/><path d="M442.07,95.62 L444.67,98.22 L442.07,100.82 L439.47,98.22 Z" fill="#dc8898"/><path d="M437.91,90.9 L440.51,93.5 L437.91,96.1 L435.31,93.5 Z" fill="#dc8898"/><path d="M432.08,94.33 L434.68,96.93 L432.08,99.53 L429.48,96.93 Z" fill="#dc8898"/><path d="M430.2,94.83 L432.8,97.43 L430.2,100.03 L427.6,97.43 Z" fill="#dc8898"/><path d="M425.85,101.35 L428.45,103.95 L425.85,106.55 L423.25,103.95 Z" fill="#dc8898"/><path d="M419.89,96.43 L422.49,99.03 L419.89,101.63 L417.29,99.03 Z" fill="#dc8898"/><path d="M418.31,100.46 L420.91,103.06 L418.31,105.66 L415.71,103.06 Z" fill="#dc8898"/><path d="M413.25,102.58 L415.85,105.18 L413.25,107.78 L410.65,105.18 Z" fill="#dc8898"/><path d="M409.46,104.43 L412.06,107.03 L409.46,109.63 L406.86,107.03 Z" fill="#dc8898"/><path d="M397.55,103.92 L400.15,106.52 L397.55,109.12 L394.95,106.52 Z" fill="#dc8898"/><path d="M398.83,108.41 L401.43,111.01 L398.83,113.61 L396.23,111.01 Z" fill="#dc8898"/><path d="M394.26,111.34 L396.86,113.94 L394.26,116.54 L391.66,113.94 Z" fill="#dc8898"/><path d="M388.53,117.81 L391.13,120.41 L388.53,123.01 L385.93,120.41 Z" fill="#dc8898"/><path d="M385.24,120.79 L387.84,123.39 L385.24,125.99 L382.64,123.39 Z" fill="#dc8898"/><path d="M385.42,125.63 L388.02,128.23 L385.42,130.83 L382.82,128.23 Z" fill="#dc8898"/><path d="M383.74,132.8 L386.34,135.4 L383.74,138 L381.14,135.4 Z" fill="#dc8898"/><path d="M383.13,135.99 L385.73,138.59 L383.13,141.19 L380.53,138.59 Z" fill="#dc8898"/><path d="M380.41,141.83 L383.01,144.43 L380.41,147.03 L377.81,144.43 Z" fill="#dc8898"/><path d="M380.62,150.4 L383.22,153 L380.62,155.6 L378.02,153 Z" fill="#dc8898"/><path d="M383.54,155.31 L386.14,157.91 L383.54,160.51 L380.94,157.91 Z" fill="#dc8898"/><path d="M385.59,157.64 L388.19,160.24 L385.59,162.84 L382.99,160.24 Z" fill="#dc8898"/><path d="M382.43,165.56 L385.03,168.16 L382.43,170.76 L379.83,168.16 Z" fill="#dc8898"/><path d="M384.71,168.29 L387.31,170.89 L384.71,173.49 L382.11,170.89 Z" fill="#dc8898"/><path d="M388.91,173.19 L391.51,175.79 L388.91,178.39 L386.31,175.79 Z" fill="#dc8898"/><path d="M393.6,179 L396.2,181.6 L393.6,184.2 L391,181.6 Z" fill="#dc8898"/><path d="M393.11,182.04 L395.71,184.64 L393.11,187.24 L390.51,184.64 Z" fill="#dc8898"/><path d="M398.87,184.56 L401.47,187.16 L398.87,189.76 L396.27,187.16 Z" fill="#dc8898"/><path d="M403.38,189.83 L405.98,192.43 L403.38,195.03 L400.78,192.43 Z" fill="#dc8898"/><path d="M409.39,189.67 L411.99,192.27 L409.39,194.87 L406.79,192.27 Z" fill="#dc8898"/><path d="M409.24,197.54 L411.84,200.14 L409.24,202.74 L406.64,200.14 Z" fill="#dc8898"/><path d="M414.04,200.18 L416.64,202.78 L414.04,205.38 L411.44,202.78 Z" fill="#dc8898"/><path d="M417.87,200.5 L420.47,203.1 L417.87,205.7 L415.27,203.1 Z" fill="#dc8898"/><path d="M423.86,205.69 L426.46,208.29 L423.86,210.89 L421.26,208.29 Z" fill="#dc8898"/><path d="M426.67,204.86 L429.27,207.46 L426.67,210.06 L424.07,207.46 Z" fill="#dc8898"/><path d="M432.21,210.15 L434.81,212.75 L432.21,215.35 L429.61,212.75 Z" fill="#dc8898"/><path d="M438.16,210.47 L440.76,213.07 L438.16,215.67 L435.56,213.07 Z" fill="#dc8898"/><path d="M442.9,210.65 L445.5,213.25 L442.9,215.85 L440.3,213.25 Z" fill="#dc8898"/><path d="M444.82,211.54 L447.42,214.14 L444.82,216.74 L442.22,214.14 Z" fill="#dc8898"/><path d="M449.45,215.22 L452.05,217.82 L449.45,220.42 L446.85,217.82 Z" fill="#dc8898"/><path d="M457.31,214.41 L459.91,217.01 L457.31,219.61 L454.71,217.01 Z" fill="#dc8898"/><path d="M461.02,216.12 L463.62,218.72 L461.02,221.32 L458.42,218.72 Z" fill="#dc8898"/><path d="M465.86,212.53 L468.46,215.13 L465.86,217.73 L463.26,215.13 Z" fill="#dc8898"/><path d="M471.32,214.37 L473.92,216.97 L471.32,219.57 L468.72,216.97 Z" fill="#dc8898"/><path d="M476.82,212.97 L479.42,215.57 L476.82,218.17 L474.22,215.57 Z" fill="#dc8898"/><path d="M484.77,213.51 L487.37,216.11 L484.77,218.71 L482.17,216.11 Z" fill="#dc8898"/><path d="M487.21,208.77 L489.81,211.37 L487.21,213.97 L484.61,211.37 Z" fill="#dc8898"/><path d="M496.48,207.41 L499.08,210.01 L496.48,212.61 L493.88,210.01 Z" fill="#dc8898"/><path d="M499.33,206.24 L501.93,208.84 L499.33,211.44 L496.73,208.84 Z" fill="#dc8898"/><path d="M505.85,203.31 L508.45,205.91 L505.85,208.51 L503.25,205.91 Z" fill="#dc8898"/><path d="M510.13,199.45 L512.73,202.05 L510.13,204.65 L507.53,202.05 Z" fill="#dc8898"/><path d="M516.37,195.25 L518.97,197.85 L516.37,200.45 L513.77,197.85 Z" fill="#dc8898"/><path d="M522.06,189.51 L524.66,192.11 L522.06,194.71 L519.46,192.11 Z" fill="#dc8898"/><path d="M523.63,182.66 L526.23,185.26 L523.63,187.86 L521.03,185.26 Z" fill="#dc8898"/><path d="M525.33,178.63 L527.93,181.23 L525.33,183.83 L522.73,181.23 Z" fill="#dc8898"/><path d="M530.24,175.95 L532.84,178.55 L530.24,181.15 L527.64,178.55 Z" fill="#dc8898"/><path d="M534.26,166.17 L536.86,168.77 L534.26,171.37 L531.66,168.77 Z" fill="#dc8898"/><path d="M536.22,160.8 L538.82,163.4 L536.22,166 L533.62,163.4 Z" fill="#dc8898"/><path d="M536.99,154.44 L539.59,157.04 L536.99,159.64 L534.39,157.04 Z" fill="#dc8898"/><path d="M492.5,151 L492.46,149.56 L492.34,148.13 L492.14,146.71 L491.87,145.3 L491.51,143.91 L491.08,142.54 L490.58,141.21 L490.01,139.9 L489.38,138.63 L488.67,137.4 L487.91,136.21 L487.09,135.06 L486.22,133.97 L485.3,132.92 L484.34,131.93 L483.33,130.98 L482.29,130.09 L481.22,129.26 L480.12,128.48 L479,127.76 L477.86,127.09 L476.7,126.47 L475.53,125.9 L474.36,125.39 L473.18,124.92 L472,124.5 L470.82,124.13 L469.65,123.8 L468.48,123.5 L467.33,123.24 L466.18,123.02 L465.04,122.83 L463.92,122.66 L462.8,122.52 L461.71,122.41 L460.62,122.31 L459.55,122.23 L458.49,122.17 L457.44,122.12 L456.4,122.08 L455.37,122.05 L454.35,122.03 L453.33,122.01 L452.31,122 L451.3,122 L450.29,122 L449.27,122.01 L448.25,122.03 L447.23,122.05 L446.2,122.08 L445.16,122.12 L444.11,122.17 L443.05,122.23 L441.98,122.31 L440.89,122.41 L439.8,122.52 L438.68,122.66 L437.56,122.83 L436.42,123.02 L435.28,123.24 L434.12,123.5 L432.95,123.8 L431.78,124.13 L430.6,124.5 L429.42,124.92 L428.24,125.39 L427.07,125.9 L425.9,126.47 L424.74,127.09 L423.6,127.76 L422.48,128.48 L421.38,129.26 L420.31,130.09 L419.27,130.98 L418.26,131.93 L417.3,132.92 L416.38,133.97 L415.51,135.06 L414.69,136.21 L413.93,137.4 L413.22,138.63 L412.59,139.9 L412.02,141.21 L411.52,142.54 L411.09,143.91 L410.73,145.3 L410.46,146.71 L410.26,148.13 L410.14,149.56 L410.1,151 L410.14,152.44 L410.26,153.87 L410.46,155.29 L410.73,156.7 L411.09,158.09 L411.52,159.46 L412.02,160.79 L412.59,162.1 L413.22,163.37 L413.93,164.6 L414.69,165.79 L415.51,166.94 L416.38,168.03 L417.3,169.08 L418.26,170.07 L419.27,171.02 L420.31,171.91 L421.38,172.74 L422.48,173.52 L423.6,174.24 L424.74,174.91 L425.9,175.53 L427.07,176.1 L428.24,176.61 L429.42,177.08 L430.6,177.5 L431.78,177.87 L432.95,178.2 L434.12,178.5 L435.27,178.76 L436.42,178.98 L437.56,179.17 L438.68,179.34 L439.8,179.48 L440.89,179.59 L441.98,179.69 L443.05,179.77 L444.11,179.83 L445.16,179.88 L446.2,179.92 L447.23,179.95 L448.25,179.97 L449.27,179.99 L450.29,180 L451.3,180 L452.31,180 L453.33,179.99 L454.35,179.97 L455.37,179.95 L456.4,179.92 L457.44,179.88 L458.49,179.83 L459.55,179.77 L460.62,179.69 L461.71,179.59 L462.8,179.48 L463.92,179.34 L465.04,179.17 L466.18,178.98 L467.33,178.76 L468.48,178.5 L469.65,178.2 L470.82,177.87 L472,177.5 L473.18,177.08 L474.36,176.61 L475.53,176.1 L476.7,175.53 L477.86,174.91 L479,174.24 L480.12,173.52 L481.22,172.74 L482.29,171.91 L483.33,171.02 L484.34,170.08 L485.3,169.08 L486.22,168.03 L487.09,166.94 L487.91,165.79 L488.67,164.6 L489.38,163.37 L490.01,162.1 L490.58,160.79 L491.08,159.46 L491.51,158.09 L491.87,156.7 L492.14,155.29 L492.34,153.87 L492.46,152.44 L492.5,151Z" fill="none" stroke="#8ad4b4" stroke-width="1.5"/><path d="M491.85,149.16 L493.75,151.06 L491.85,152.96 L489.95,151.06 Z" fill="#8cc47a"/><path d="M491.1,147.45 L493,149.35 L491.1,151.25 L489.2,149.35 Z" fill="#8cc47a"/><path d="M491.55,145.21 L493.45,147.11 L491.55,149.01 L489.65,147.11 Z" fill="#8cc47a"/><path d="M491.56,140.64 L493.46,142.54 L491.56,144.44 L489.66,142.54 Z" fill="#8cc47a"/><path d="M488.55,139.08 L490.45,140.98 L488.55,142.88 L486.65,140.98 Z" fill="#8cc47a"/><path d="M487.61,136.91 L489.51,138.81 L487.61,140.71 L485.71,138.81 Z" fill="#8cc47a"/><path d="M487.13,135.79 L489.03,137.69 L487.13,139.59 L485.23,137.69 Z" fill="#8cc47a"/><path d="M485.19,132.13 L487.09,134.03 L485.19,135.93 L483.29,134.03 Z" fill="#8cc47a"/><path d="M484.79,131.83 L486.69,133.73 L484.79,135.63 L482.89,133.73 Z" fill="#8cc47a"/><path d="M481.16,129.68 L483.06,131.58 L481.16,133.48 L479.26,131.58 Z" fill="#8cc47a"/><path d="M478.52,129.72 L480.42,131.62 L478.52,133.52 L476.62,131.62 Z" fill="#8cc47a"/><path d="M479.88,126.81 L481.78,128.71 L479.88,130.61 L477.98,128.71 Z" fill="#8cc47a"/><path d="M477.58,125.69 L479.48,127.59 L477.58,129.49 L475.68,127.59 Z" fill="#8cc47a"/><path d="M473.84,126.24 L475.74,128.14 L473.84,130.04 L471.94,128.14 Z" fill="#8cc47a"/><path d="M470.83,124.04 L472.73,125.94 L470.83,127.84 L468.93,125.94 Z" fill="#8cc47a"/><path d="M469.37,124.47 L471.27,126.37 L469.37,128.27 L467.47,126.37 Z" fill="#8cc47a"/><path d="M467.61,124.6 L469.51,126.5 L467.61,128.4 L465.71,126.5 Z" fill="#8cc47a"/><path d="M466.75,122.3 L468.65,124.2 L466.75,126.1 L464.85,124.2 Z" fill="#8cc47a"/><path d="M463.28,122.85 L465.18,124.75 L463.28,126.65 L461.38,124.75 Z" fill="#8cc47a"/><path d="M460.97,123.26 L462.87,125.16 L460.97,127.06 L459.07,125.16 Z" fill="#8cc47a"/><path d="M459.31,124.95 L461.21,126.85 L459.31,128.75 L457.41,126.85 Z" fill="#8cc47a"/><path d="M458.11,122.73 L460.01,124.63 L458.11,126.53 L456.21,124.63 Z" fill="#8cc47a"/><path d="M456.74,121.63 L458.64,123.53 L456.74,125.43 L454.84,123.53 Z" fill="#8cc47a"/><path d="M453.81,123.42 L455.71,125.32 L453.81,127.22 L451.91,125.32 Z" fill="#8cc47a"/><path d="M452.14,124.57 L454.04,126.47 L452.14,128.37 L450.24,126.47 Z" fill="#8cc47a"/><path d="M451.5,125.04 L453.4,126.94 L451.5,128.84 L449.6,126.94 Z" fill="#8cc47a"/><path d="M449.47,124.46 L451.37,126.36 L449.47,128.26 L447.57,126.36 Z" fill="#8cc47a"/><path d="M448.62,124.8 L450.52,126.7 L448.62,128.6 L446.72,126.7 Z" fill="#8cc47a"/><path d="M447.22,126.72 L449.12,128.62 L447.22,130.52 L445.32,128.62 Z" fill="#8cc47a"/><path d="M445.04,124.73 L446.94,126.63 L445.04,128.53 L443.14,126.63 Z" fill="#8cc47a"/><path d="M443.95,124.08 L445.85,125.98 L443.95,127.88 L442.05,125.98 Z" fill="#8cc47a"/><path d="M442.17,126.11 L444.07,128.01 L442.17,129.91 L440.27,128.01 Z" fill="#8cc47a"/><path d="M440.99,126.2 L442.89,128.1 L440.99,130 L439.09,128.1 Z" fill="#8cc47a"/><path d="M437.62,125.15 L439.52,127.05 L437.62,128.95 L435.72,127.05 Z" fill="#8cc47a"/><path d="M437.67,126.45 L439.57,128.35 L437.67,130.25 L435.77,128.35 Z" fill="#8cc47a"/><path d="M434.66,126.75 L436.56,128.65 L434.66,130.55 L432.76,128.65 Z" fill="#8cc47a"/><path d="M433.97,126.92 L435.87,128.82 L433.97,130.72 L432.07,128.82 Z" fill="#8cc47a"/><path d="M430.23,127.03 L432.13,128.93 L430.23,130.83 L428.33,128.93 Z" fill="#8cc47a"/><path d="M430.87,128.86 L432.77,130.76 L430.87,132.66 L428.97,130.76 Z" fill="#8cc47a"/><path d="M427.96,129.27 L429.86,131.17 L427.96,133.07 L426.06,131.17 Z" fill="#8cc47a"/><path d="M424.96,129.9 L426.86,131.8 L424.96,133.7 L423.06,131.8 Z" fill="#8cc47a"/><path d="M424.12,132.88 L426.02,134.78 L424.12,136.68 L422.22,134.78 Z" fill="#8cc47a"/><path d="M422.47,132.49 L424.37,134.39 L422.47,136.29 L420.57,134.39 Z" fill="#8cc47a"/><path d="M422.45,134.86 L424.35,136.76 L422.45,138.66 L420.55,136.76 Z" fill="#8cc47a"/><path d="M419.87,137.19 L421.77,139.09 L419.87,140.99 L417.97,139.09 Z" fill="#8cc47a"/><path d="M419.46,138.26 L421.36,140.16 L419.46,142.06 L417.56,140.16 Z" fill="#8cc47a"/><path d="M418.5,141.24 L420.4,143.14 L418.5,145.04 L416.6,143.14 Z" fill="#8cc47a"/><path d="M416.98,141.5 L418.88,143.4 L416.98,145.3 L415.08,143.4 Z" fill="#8cc47a"/><path d="M419.81,144.23 L421.71,146.13 L419.81,148.03 L417.91,146.13 Z" fill="#8cc47a"/><path d="M418.97,148.04 L420.87,149.94 L418.97,151.84 L417.07,149.94 Z" fill="#8cc47a"/><path d="M415.25,149.11 L417.15,151.01 L415.25,152.91 L413.35,151.01 Z" fill="#8cc47a"/><path d="M416.33,151.91 L418.23,153.81 L416.33,155.71 L414.43,153.81 Z" fill="#8cc47a"/><path d="M417.46,154.06 L419.36,155.96 L417.46,157.86 L415.56,155.96 Z" fill="#8cc47a"/><path d="M417.94,155.52 L419.84,157.42 L417.94,159.32 L416.04,157.42 Z" fill="#8cc47a"/><path d="M418.57,157.46 L420.47,159.36 L418.57,161.26 L416.67,159.36 Z" fill="#8cc47a"/><path d="M419.87,160.25 L421.77,162.15 L419.87,164.05 L417.97,162.15 Z" fill="#8cc47a"/><path d="M419.71,162.48 L421.61,164.38 L419.71,166.28 L417.81,164.38 Z" fill="#8cc47a"/><path d="M420.63,164.38 L422.53,166.28 L420.63,168.18 L418.73,166.28 Z" fill="#8cc47a"/><path d="M420.73,165.38 L422.63,167.28 L420.73,169.18 L418.83,167.28 Z" fill="#8cc47a"/><path d="M424.49,166.56 L426.39,168.46 L424.49,170.36 L422.59,168.46 Z" fill="#8cc47a"/><path d="M425.41,168.4 L427.31,170.3 L425.41,172.2 L423.51,170.3 Z" fill="#8cc47a"/><path d="M425.71,169.65 L427.61,171.55 L425.71,173.45 L423.81,171.55 Z" fill="#8cc47a"/><path d="M429.04,170.47 L430.94,172.37 L429.04,174.27 L427.14,172.37 Z" fill="#8cc47a"/><path d="M431.35,171.36 L433.25,173.26 L431.35,175.16 L429.45,173.26 Z" fill="#8cc47a"/><path d="M431.83,172.4 L433.73,174.3 L431.83,176.2 L429.93,174.3 Z" fill="#8cc47a"/><path d="M433.79,174.72 L435.69,176.62 L433.79,178.52 L431.89,176.62 Z" fill="#8cc47a"/><path d="M436.73,172.24 L438.63,174.14 L436.73,176.04 L434.83,174.14 Z" fill="#8cc47a"/><path d="M439,173.02 L440.9,174.92 L439,176.82 L437.1,174.92 Z" fill="#8cc47a"/><path d="M440.09,173.93 L441.99,175.83 L440.09,177.73 L438.19,175.83 Z" fill="#8cc47a"/><path d="M441.14,176.67 L443.04,178.57 L441.14,180.47 L439.24,178.57 Z" fill="#8cc47a"/><path d="M443.3,175.26 L445.2,177.16 L443.3,179.06 L441.4,177.16 Z" fill="#8cc47a"/><path d="M444.18,175.96 L446.08,177.86 L444.18,179.76 L442.28,177.86 Z" fill="#8cc47a"/><path d="M446.42,176.83 L448.32,178.73 L446.42,180.63 L444.52,178.73 Z" fill="#8cc47a"/><path d="M448.1,177.3 L450,179.2 L448.1,181.1 L446.2,179.2 Z" fill="#8cc47a"/><path d="M450.16,178.6 L452.06,180.5 L450.16,182.4 L448.26,180.5 Z" fill="#8cc47a"/><path d="M451.95,175.43 L453.85,177.33 L451.95,179.23 L450.05,177.33 Z" fill="#8cc47a"/><path d="M453.22,178.56 L455.12,180.46 L453.22,182.36 L451.32,180.46 Z" fill="#8cc47a"/><path d="M454.16,177.17 L456.06,179.07 L454.16,180.97 L452.26,179.07 Z" fill="#8cc47a"/><path d="M456.46,177.51 L458.36,179.41 L456.46,181.31 L454.56,179.41 Z" fill="#8cc47a"/><path d="M460.01,181.51 L461.91,183.41 L460.01,185.31 L458.11,183.41 Z" fill="#8cc47a"/><path d="M460.89,178.38 L462.79,180.28 L460.89,182.18 L458.99,180.28 Z" fill="#8cc47a"/><path d="M462.96,178.36 L464.86,180.26 L462.96,182.16 L461.06,180.26 Z" fill="#8cc47a"/><path d="M465.29,177.92 L467.19,179.82 L465.29,181.72 L463.39,179.82 Z" fill="#8cc47a"/><path d="M467.49,178.94 L469.39,180.84 L467.49,182.74 L465.59,180.84 Z" fill="#8cc47a"/><path d="M469.09,177.81 L470.99,179.71 L469.09,181.61 L467.19,179.71 Z" fill="#8cc47a"/><path d="M470.61,177.1 L472.51,179 L470.61,180.9 L468.71,179 Z" fill="#8cc47a"/><path d="M473.25,176.25 L475.15,178.15 L473.25,180.05 L471.35,178.15 Z" fill="#8cc47a"/><path d="M475.25,174.12 L477.15,176.02 L475.25,177.92 L473.35,176.02 Z" fill="#8cc47a"/><path d="M479.26,174.02 L481.16,175.92 L479.26,177.82 L477.36,175.92 Z" fill="#8cc47a"/><path d="M480.81,173.55 L482.71,175.45 L480.81,177.35 L478.91,175.45 Z" fill="#8cc47a"/><path d="M483.25,172.48 L485.15,174.38 L483.25,176.28 L481.35,174.38 Z" fill="#8cc47a"/><path d="M485.78,171.45 L487.68,173.35 L485.78,175.25 L483.88,173.35 Z" fill="#8cc47a"/><path d="M484.68,168.14 L486.58,170.04 L484.68,171.94 L482.78,170.04 Z" fill="#8cc47a"/><path d="M489.71,168.58 L491.61,170.48 L489.71,172.38 L487.81,170.48 Z" fill="#8cc47a"/><path d="M489.07,164.42 L490.97,166.32 L489.07,168.22 L487.17,166.32 Z" fill="#8cc47a"/><path d="M491.35,162.29 L493.25,164.19 L491.35,166.09 L489.45,164.19 Z" fill="#8cc47a"/><path d="M492.63,160.45 L494.53,162.35 L492.63,164.25 L490.73,162.35 Z" fill="#8cc47a"/><path d="M491.67,156.3 L493.57,158.2 L491.67,160.1 L489.77,158.2 Z" fill="#8cc47a"/><path d="M490.93,154.92 L492.83,156.82 L490.93,158.72 L489.03,156.82 Z" fill="#8cc47a"/><path d="M493.37,150.88 L495.27,152.78 L493.37,154.68 L491.47,152.78 Z" fill="#8cc47a"/><path d="M472.8,151 L472.78,150.25 L472.72,149.5 L472.61,148.76 L472.47,148.03 L472.28,147.3 L472.06,146.59 L471.79,145.89 L471.49,145.21 L471.16,144.55 L470.79,143.91 L470.39,143.29 L469.96,142.69 L469.5,142.12 L469.02,141.58 L468.51,141.06 L467.99,140.57 L467.44,140.11 L466.88,139.68 L466.3,139.28 L465.71,138.91 L465.11,138.56 L464.51,138.24 L463.9,137.95 L463.28,137.69 L462.67,137.45 L462.05,137.24 L461.44,137.05 L460.82,136.88 L460.22,136.73 L459.61,136.6 L459.01,136.49 L458.42,136.4 L457.84,136.31 L457.26,136.25 L456.69,136.19 L456.13,136.14 L455.57,136.11 L455.02,136.08 L454.48,136.05 L453.94,136.03 L453.41,136.02 L452.88,136.01 L452.35,136 L451.82,136 L451.3,136 L450.78,136 L450.25,136 L449.72,136.01 L449.19,136.02 L448.66,136.03 L448.12,136.05 L447.58,136.08 L447.03,136.11 L446.47,136.14 L445.91,136.19 L445.34,136.25 L444.76,136.31 L444.18,136.4 L443.59,136.49 L442.99,136.6 L442.38,136.73 L441.78,136.88 L441.16,137.05 L440.55,137.24 L439.93,137.45 L439.32,137.69 L438.7,137.95 L438.09,138.24 L437.49,138.56 L436.89,138.91 L436.3,139.28 L435.72,139.68 L435.16,140.11 L434.61,140.57 L434.09,141.06 L433.58,141.58 L433.1,142.12 L432.64,142.69 L432.21,143.29 L431.81,143.91 L431.44,144.55 L431.11,145.21 L430.81,145.89 L430.54,146.59 L430.32,147.3 L430.13,148.03 L429.99,148.76 L429.88,149.5 L429.82,150.25 L429.8,151 L429.82,151.75 L429.88,152.5 L429.99,153.24 L430.13,153.97 L430.32,154.7 L430.54,155.41 L430.81,156.11 L431.11,156.79 L431.44,157.45 L431.81,158.09 L432.21,158.71 L432.64,159.31 L433.1,159.88 L433.58,160.42 L434.09,160.94 L434.61,161.43 L435.16,161.89 L435.72,162.32 L436.3,162.72 L436.89,163.09 L437.49,163.44 L438.09,163.76 L438.7,164.05 L439.32,164.31 L439.93,164.55 L440.55,164.76 L441.16,164.95 L441.78,165.12 L442.38,165.27 L442.99,165.4 L443.59,165.51 L444.18,165.6 L444.76,165.69 L445.34,165.75 L445.91,165.81 L446.47,165.86 L447.03,165.89 L447.58,165.92 L448.12,165.95 L448.66,165.97 L449.19,165.98 L449.72,165.99 L450.25,166 L450.78,166 L451.3,166 L451.82,166 L452.35,166 L452.88,165.99 L453.41,165.98 L453.94,165.97 L454.48,165.95 L455.02,165.92 L455.57,165.89 L456.13,165.86 L456.69,165.81 L457.26,165.75 L457.84,165.69 L458.42,165.6 L459.01,165.51 L459.61,165.4 L460.22,165.27 L460.82,165.12 L461.44,164.95 L462.05,164.76 L462.67,164.55 L463.28,164.31 L463.9,164.05 L464.51,163.76 L465.11,163.44 L465.71,163.09 L466.3,162.72 L466.88,162.32 L467.44,161.89 L467.99,161.43 L468.51,160.94 L469.02,160.42 L469.5,159.88 L469.96,159.31 L470.39,158.71 L470.79,158.09 L471.16,157.45 L471.49,156.79 L471.79,156.11 L472.06,155.41 L472.28,154.7 L472.47,153.97 L472.61,153.24 L472.72,152.5 L472.78,151.75 L472.8,151Z" fill="none" stroke="#4c94d8" stroke-width="1.5"/><path d="M471.43,149.79 L472.93,151.29 L471.43,152.79 L469.93,151.29 Z" fill="#7088a4"/><path d="M469.78,147.74 L471.28,149.24 L469.78,150.74 L468.28,149.24 Z" fill="#7088a4"/><path d="M472.26,146.78 L473.76,148.28 L472.26,149.78 L470.76,148.28 Z" fill="#7088a4"/><path d="M472.66,145.05 L474.16,146.55 L472.66,148.05 L471.16,146.55 Z" fill="#7088a4"/><path d="M472.22,142.8 L473.72,144.3 L472.22,145.8 L470.72,144.3 Z" fill="#7088a4"/><path d="M471.85,141.94 L473.35,143.44 L471.85,144.94 L470.35,143.44 Z" fill="#7088a4"/><path d="M466.56,142.48 L468.06,143.98 L466.56,145.48 L465.06,143.98 Z" fill="#7088a4"/><path d="M469.37,139.06 L470.87,140.56 L469.37,142.06 L467.87,140.56 Z" fill="#7088a4"/><path d="M467.42,139.34 L468.92,140.84 L467.42,142.34 L465.92,140.84 Z" fill="#7088a4"/><path d="M466.35,137.14 L467.85,138.64 L466.35,140.14 L464.85,138.64 Z" fill="#7088a4"/><path d="M465.25,136.3 L466.75,137.8 L465.25,139.3 L463.75,137.8 Z" fill="#7088a4"/><path d="M461.07,138.87 L462.57,140.37 L461.07,141.87 L459.57,140.37 Z" fill="#7088a4"/><path d="M461.95,135.69 L463.45,137.19 L461.95,138.69 L460.45,137.19 Z" fill="#7088a4"/><path d="M459.8,136.77 L461.3,138.27 L459.8,139.77 L458.3,138.27 Z" fill="#7088a4"/><path d="M459.69,135.4 L461.19,136.9 L459.69,138.4 L458.19,136.9 Z" fill="#7088a4"/><path d="M457.42,137.34 L458.92,138.84 L457.42,140.34 L455.92,138.84 Z" fill="#7088a4"/><path d="M456.76,136.44 L458.26,137.94 L456.76,139.44 L455.26,137.94 Z" fill="#7088a4"/><path d="M456.57,134.45 L458.07,135.95 L456.57,137.45 L455.07,135.95 Z" fill="#7088a4"/><path d="M454.89,133.54 L456.39,135.04 L454.89,136.54 L453.39,135.04 Z" fill="#7088a4"/><path d="M452.77,140.05 L454.27,141.55 L452.77,143.05 L451.27,141.55 Z" fill="#7088a4"/><path d="M452.58,135.18 L454.08,136.68 L452.58,138.18 L451.08,136.68 Z" fill="#7088a4"/><path d="M451.4,136.26 L452.9,137.76 L451.4,139.26 L449.9,137.76 Z" fill="#7088a4"/><path d="M450.54,134.85 L452.04,136.35 L450.54,137.85 L449.04,136.35 Z" fill="#7088a4"/><path d="M449.32,134.47 L450.82,135.97 L449.32,137.47 L447.82,135.97 Z" fill="#7088a4"/><path d="M449.11,138.01 L450.61,139.51 L449.11,141.01 L447.61,139.51 Z" fill="#7088a4"/><path d="M447.35,135.29 L448.85,136.79 L447.35,138.29 L445.85,136.79 Z" fill="#7088a4"/><path d="M447.14,137.3 L448.64,138.8 L447.14,140.3 L445.64,138.8 Z" fill="#7088a4"/><path d="M445.56,136.26 L447.06,137.76 L445.56,139.26 L444.06,137.76 Z" fill="#7088a4"/><path d="M444.8,137.03 L446.3,138.53 L444.8,140.03 L443.3,138.53 Z" fill="#7088a4"/><path d="M442.85,136.66 L444.35,138.16 L442.85,139.66 L441.35,138.16 Z" fill="#7088a4"/><path d="M443.21,139.37 L444.71,140.87 L443.21,142.37 L441.71,140.87 Z" fill="#7088a4"/><path d="M439.56,136.82 L441.06,138.32 L439.56,139.82 L438.06,138.32 Z" fill="#7088a4"/><path d="M439.1,136.84 L440.6,138.34 L439.1,139.84 L437.6,138.34 Z" fill="#7088a4"/><path d="M436.89,137.8 L438.39,139.3 L436.89,140.8 L435.39,139.3 Z" fill="#7088a4"/><path d="M437.24,139.46 L438.74,140.96 L437.24,142.46 L435.74,140.96 Z" fill="#7088a4"/><path d="M435.62,140.26 L437.12,141.76 L435.62,143.26 L434.12,141.76 Z" fill="#7088a4"/><path d="M435.77,141.86 L437.27,143.36 L435.77,144.86 L434.27,143.36 Z" fill="#7088a4"/><path d="M436.45,143.48 L437.95,144.98 L436.45,146.48 L434.95,144.98 Z" fill="#7088a4"/><path d="M435.17,143.79 L436.67,145.29 L435.17,146.79 L433.67,145.29 Z" fill="#7088a4"/><path d="M435.08,145.69 L436.58,147.19 L435.08,148.69 L433.58,147.19 Z" fill="#7088a4"/><path d="M434.05,146.39 L435.55,147.89 L434.05,149.39 L432.55,147.89 Z" fill="#7088a4"/><path d="M434.74,147.77 L436.24,149.27 L434.74,150.77 L433.24,149.27 Z" fill="#7088a4"/><path d="M434.77,148.97 L436.27,150.47 L434.77,151.97 L433.27,150.47 Z" fill="#7088a4"/><path d="M434.21,150.37 L435.71,151.87 L434.21,153.37 L432.71,151.87 Z" fill="#7088a4"/><path d="M433.65,151.29 L435.15,152.79 L433.65,154.29 L432.15,152.79 Z" fill="#7088a4"/><path d="M432.62,153.21 L434.12,154.71 L432.62,156.21 L431.12,154.71 Z" fill="#7088a4"/><path d="M433.71,153.72 L435.21,155.22 L433.71,156.72 L432.21,155.22 Z" fill="#7088a4"/><path d="M433.85,155.7 L435.35,157.2 L433.85,158.7 L432.35,157.2 Z" fill="#7088a4"/><path d="M435.49,156.37 L436.99,157.87 L435.49,159.37 L433.99,157.87 Z" fill="#7088a4"/><path d="M435.81,157.5 L437.31,159 L435.81,160.5 L434.31,159 Z" fill="#7088a4"/><path d="M436.31,158.59 L437.81,160.09 L436.31,161.59 L434.81,160.09 Z" fill="#7088a4"/><path d="M437.71,160.01 L439.21,161.51 L437.71,163.01 L436.21,161.51 Z" fill="#7088a4"/><path d="M438.4,159.92 L439.9,161.42 L438.4,162.92 L436.9,161.42 Z" fill="#7088a4"/><path d="M438.46,162.25 L439.96,163.75 L438.46,165.25 L436.96,163.75 Z" fill="#7088a4"/><path d="M441.17,160.46 L442.67,161.96 L441.17,163.46 L439.67,161.96 Z" fill="#7088a4"/><path d="M441.56,162.96 L443.06,164.46 L441.56,165.96 L440.06,164.46 Z" fill="#7088a4"/><path d="M442.71,161.99 L444.21,163.49 L442.71,164.99 L441.21,163.49 Z" fill="#7088a4"/><path d="M443.25,165.32 L444.75,166.82 L443.25,168.32 L441.75,166.82 Z" fill="#7088a4"/><path d="M445.87,161.54 L447.37,163.04 L445.87,164.54 L444.37,163.04 Z" fill="#7088a4"/><path d="M445.55,164.64 L447.05,166.14 L445.55,167.64 L444.05,166.14 Z" fill="#7088a4"/><path d="M447.77,160.7 L449.27,162.2 L447.77,163.7 L446.27,162.2 Z" fill="#7088a4"/><path d="M448.37,164.84 L449.87,166.34 L448.37,167.84 L446.87,166.34 Z" fill="#7088a4"/><path d="M449.26,163.6 L450.76,165.1 L449.26,166.6 L447.76,165.1 Z" fill="#7088a4"/><path d="M450.43,161.97 L451.93,163.47 L450.43,164.97 L448.93,163.47 Z" fill="#7088a4"/><path d="M451.66,164.51 L453.16,166.01 L451.66,167.51 L450.16,166.01 Z" fill="#7088a4"/><path d="M452.65,166.46 L454.15,167.96 L452.65,169.46 L451.15,167.96 Z" fill="#7088a4"/><path d="M453.64,165.16 L455.14,166.66 L453.64,168.16 L452.14,166.66 Z" fill="#7088a4"/><path d="M455.2,165.84 L456.7,167.34 L455.2,168.84 L453.7,167.34 Z" fill="#7088a4"/><path d="M456.07,165.53 L457.57,167.03 L456.07,168.53 L454.57,167.03 Z" fill="#7088a4"/><path d="M456.37,163.03 L457.87,164.53 L456.37,166.03 L454.87,164.53 Z" fill="#7088a4"/><path d="M459.67,165.63 L461.17,167.13 L459.67,168.63 L458.17,167.13 Z" fill="#7088a4"/><path d="M461.38,166.35 L462.88,167.85 L461.38,169.35 L459.88,167.85 Z" fill="#7088a4"/><path d="M461.21,163.99 L462.71,165.49 L461.21,166.99 L459.71,165.49 Z" fill="#7088a4"/><path d="M463.73,165.45 L465.23,166.95 L463.73,168.45 L462.23,166.95 Z" fill="#7088a4"/><path d="M466.43,164.81 L467.93,166.31 L466.43,167.81 L464.93,166.31 Z" fill="#7088a4"/><path d="M466.81,164.12 L468.31,165.62 L466.81,167.12 L465.31,165.62 Z" fill="#7088a4"/><path d="M466.25,161.52 L467.75,163.02 L466.25,164.52 L464.75,163.02 Z" fill="#7088a4"/><path d="M467.77,161.1 L469.27,162.6 L467.77,164.1 L466.27,162.6 Z" fill="#7088a4"/><path d="M465.82,157.93 L467.32,159.43 L465.82,160.93 L464.32,159.43 Z" fill="#7088a4"/><path d="M471.4,158.34 L472.9,159.84 L471.4,161.34 L469.9,159.84 Z" fill="#7088a4"/><path d="M469.53,157.14 L471.03,158.64 L469.53,160.14 L468.03,158.64 Z" fill="#7088a4"/><path d="M471.31,155.2 L472.81,156.7 L471.31,158.2 L469.81,156.7 Z" fill="#7088a4"/><path d="M473.55,154.77 L475.05,156.27 L473.55,157.77 L472.05,156.27 Z" fill="#7088a4"/><path d="M470.79,152.85 L472.29,154.35 L470.79,155.85 L469.29,154.35 Z" fill="#7088a4"/><path d="M472.45,151.7 L473.95,153.2 L472.45,154.7 L470.95,153.2 Z" fill="#7088a4"/><circle cx="459.77" cy="151.2" r="0.65" fill="#505050"/><circle cx="458.7" cy="150.02" r="0.65" fill="#505050"/><circle cx="459.86" cy="149.3" r="0.65" fill="#505050"/><circle cx="461" cy="147.75" r="0.65" fill="#505050"/><circle cx="458.68" cy="147.82" r="0.65" fill="#505050"/><circle cx="457.48" cy="147.29" r="0.65" fill="#505050"/><circle cx="458.13" cy="146.27" r="0.65" fill="#505050"/><circle cx="458.59" cy="144.55" r="0.65" fill="#505050"/><circle cx="456.59" cy="145.29" r="0.65" fill="#505050"/><circle cx="454.74" cy="146.47" r="0.65" fill="#505050"/><circle cx="454.45" cy="145.51" r="0.65" fill="#505050"/><circle cx="453.63" cy="145.65" r="0.65" fill="#505050"/><circle cx="453.27" cy="145.37" r="0.65" fill="#505050"/><circle cx="452.72" cy="144.84" r="0.65" fill="#505050"/><circle cx="451.55" cy="147.76" r="0.65" fill="#505050"/><circle cx="451.33" cy="143.56" r="0.65" fill="#505050"/><circle cx="450.55" cy="144.31" r="0.65" fill="#505050"/><circle cx="450.45" cy="146.49" r="0.65" fill="#505050"/><circle cx="449.62" cy="145.92" r="0.65" fill="#505050"/><circle cx="449.23" cy="146.03" r="0.65" fill="#505050"/><circle cx="448.48" cy="146.35" r="0.65" fill="#505050"/><circle cx="447.68" cy="145.99" r="0.65" fill="#505050"/><circle cx="446.85" cy="145.89" r="0.65" fill="#505050"/><circle cx="447.29" cy="147.21" r="0.65" fill="#505050"/><circle cx="445.03" cy="146.63" r="0.65" fill="#505050"/><circle cx="444.91" cy="147.06" r="0.65" fill="#505050"/><circle cx="443.7" cy="147.75" r="0.65" fill="#505050"/><circle cx="443.52" cy="148.26" r="0.65" fill="#505050"/><circle cx="444.35" cy="149.51" r="0.65" fill="#505050"/><circle cx="444.8" cy="150.3" r="0.65" fill="#505050"/><circle cx="444.84" cy="150.99" r="0.65" fill="#505050"/><circle cx="443.12" cy="151.66" r="0.65" fill="#505050"/><circle cx="443.69" cy="152.6" r="0.65" fill="#505050"/><circle cx="442.4" cy="154.15" r="0.65" fill="#505050"/><circle cx="443.6" cy="154.19" r="0.65" fill="#505050"/><circle cx="444.09" cy="155.2" r="0.65" fill="#505050"/><circle cx="446.09" cy="154.56" r="0.65" fill="#505050"/><circle cx="448.02" cy="153.93" r="0.65" fill="#505050"/><circle cx="448.37" cy="154.2" r="0.65" fill="#505050"/><circle cx="448.14" cy="155.22" r="0.65" fill="#505050"/><circle cx="447.93" cy="156.68" r="0.65" fill="#505050"/><circle cx="448.36" cy="157.57" r="0.65" fill="#505050"/><circle cx="449.5" cy="156.28" r="0.65" fill="#505050"/><circle cx="450.02" cy="156.72" r="0.65" fill="#505050"/><circle cx="450.92" cy="155.96" r="0.65" fill="#505050"/><circle cx="451.44" cy="156.3" r="0.65" fill="#505050"/><circle cx="451.86" cy="156.75" r="0.65" fill="#505050"/><circle cx="452.45" cy="157.06" r="0.65" fill="#505050"/><circle cx="453.15" cy="157.07" r="0.65" fill="#505050"/><circle cx="454.59" cy="158.68" r="0.65" fill="#505050"/><circle cx="453.65" cy="155.22" r="0.65" fill="#505050"/><circle cx="454.51" cy="155.54" r="0.65" fill="#505050"/><circle cx="455.69" cy="155.72" r="0.65" fill="#505050"/><circle cx="457.68" cy="156.68" r="0.65" fill="#505050"/><circle cx="457.91" cy="155.54" r="0.65" fill="#505050"/><circle cx="457.46" cy="154.39" r="0.65" fill="#505050"/><circle cx="457.22" cy="153.69" r="0.65" fill="#505050"/><circle cx="461.12" cy="154.16" r="0.65" fill="#505050"/><circle cx="459.07" cy="152.52" r="0.65" fill="#505050"/><circle cx="462.16" cy="152.07" r="0.65" fill="#505050"/><ellipse cx="451.90000000000003" cy="151.2" rx="10.8" ry="7.2" fill="none" stroke="#333" stroke-width="1.4"/><ellipse cx="451.90000000000003" cy="151.6" rx="7.8" ry="5.2" fill="none" stroke="#555" stroke-width="0.9"/><line x1="451.3" y1="151.0" x2="551" y2="151.0" stroke="#222" stroke-width="1.3"/><path d="M558,151 L550.4,147.6 L550.4,154.4 Z" fill="#222"/><line x1="451.3" y1="151.0" x2="451.3" y2="57" stroke="#3a8ad6" stroke-width="1.1"/><path d="M451.3,51.5 L454.3,57.6 L448.3,57.6 Z" fill="#3a8ad6"/><circle cx="451.3" cy="151.0" r="2.3" fill="#fff" stroke="#222" stroke-width="1.1"/><text x="448.7" y="25" font-family="Liberation Sans, sans-serif" font-size="12" fill="#3a8ad6" stroke="#3a8ad6" stroke-width="0.22">y</text><text x="578.4" y="155" font-family="Liberation Sans, sans-serif" font-size="11.5" fill="#222" stroke="#222" stroke-width="0.22">x</text><text x="579.2" y="43.4" font-family="Liberation Sans, sans-serif" font-size="12" fill="#1a1a1a" stroke="#1a1a1a" stroke-width="0.22"><tspan font-style="italic">λ</tspan> (μm)</text><text x="564.6" y="57" font-family="Liberation Sans, sans-serif" font-size="10" fill="#1a1a1a" stroke="#1a1a1a" stroke-width="0.22">exp.</text><text x="588.4" y="57" font-family="Liberation Sans, sans-serif" font-size="10" fill="#1a1a1a" stroke="#1a1a1a" stroke-width="0.22">simu.</text><line x1="586" y1="65.4" x2="609" y2="65.4" stroke="#333" stroke-width="1.6"/><circle cx="572.6" cy="65.4" r="0.9" fill="#999"/><text x="613.4" y="68.8" font-family="Liberation Sans, sans-serif" font-size="9.8" fill="#1a1a1a" stroke="#1a1a1a" stroke-width="0.22">0.60</text><line x1="586" y1="77.43" x2="609" y2="77.43" stroke="#5aa0d8" stroke-width="1.6"/><path d="M572.6,75.93 L574.1,77.43 L572.6,78.93 L571.1,77.43 Z" fill="#7890a8"/><text x="613.4" y="80.83" font-family="Liberation Sans, sans-serif" font-size="9.8" fill="#1a1a1a" stroke="#1a1a1a" stroke-width="0.22">0.65</text><line x1="586" y1="89.46" x2="609" y2="89.46" stroke="#80c8a0" stroke-width="1.6"/><path d="M572.6,87.66 L574.4,89.46 L572.6,91.26 L570.8,89.46 Z" fill="#8cc070"/><text x="613.4" y="92.86" font-family="Liberation Sans, sans-serif" font-size="9.8" fill="#1a1a1a" stroke="#1a1a1a" stroke-width="0.22">0.70</text><line x1="586" y1="101.49" x2="609" y2="101.49" stroke="#e24a2e" stroke-width="1.6"/><path d="M572.6,98.89 L575.2,101.49 L572.6,104.09 L570,101.49 Z" fill="#d98898"/><text x="613.4" y="104.89" font-family="Liberation Sans, sans-serif" font-size="9.8" fill="#1a1a1a" stroke="#1a1a1a" stroke-width="0.22">0.75</text><text x="293.6" y="291" font-family="Liberation Sans, sans-serif" font-size="16" font-weight="bold" fill="#000">c</text><path d="M339.2,363.01 L345.19,363.79 L351.19,364.57 L357.19,365.34 L363.18,366.11 L369.18,366.86 L375.17,367.61 L381.16,368.34 L387.16,369.06 L393.15,369.77 L399.15,370.47 L405.14,371.15 L411.14,371.81 L417.13,372.46 L423.13,373.09 L429.12,373.69 L435.12,374.27 L441.12,374.83 L447.11,375.36 L453.11,375.87 L459.1,376.35 L465.1,376.8 L471.09,377.23 L477.09,377.63 L483.08,378.01 L489.07,378.36 L495.07,378.69 L501.06,379 L507.06,379.29 L513.06,379.56 L519.05,379.81 L525.04,380.05 L531.04,380.27 L537.03,380.49 L543.03,380.69 L549.02,380.88 L555.02,381.06 L561.01,381.23 L567.01,381.39 L573,381.55 L579,381.7 L579,401.7 L573,400.92 L567.01,400.14 L561.01,399.37 L555.02,398.6 L549.02,397.85 L543.03,397.1 L537.03,396.37 L531.04,395.65 L525.04,394.93 L519.05,394.24 L513.06,393.56 L507.06,392.89 L501.06,392.25 L495.07,391.62 L489.07,391.01 L483.08,390.43 L477.09,389.87 L471.09,389.34 L465.1,388.83 L459.1,388.35 L453.11,387.9 L447.11,387.47 L441.12,387.06 L435.12,386.69 L429.12,386.33 L423.13,386 L417.13,385.69 L411.14,385.41 L405.14,385.13 L399.15,384.88 L393.15,384.64 L387.16,384.42 L381.16,384.21 L375.17,384 L369.18,383.81 L363.18,383.63 L357.19,383.46 L351.19,383.3 L345.19,383.14 L339.2,382.99 Z" fill="#e4f2bc"/><line x1="339.2" y1="400.5" x2="558.9" y2="408.4" stroke="#cc3d8e" stroke-width="1.5"/><circle cx="358.8" cy="396" r="3.9" fill="#8cb9dc" stroke="#3f6f9e" stroke-width="1"/><circle cx="368.8" cy="364.2" r="3.9" fill="#8cb9dc" stroke="#3f6f9e" stroke-width="1"/><circle cx="378.8" cy="375.5" r="3.9" fill="#8cb9dc" stroke="#3f6f9e" stroke-width="1"/><circle cx="388.8" cy="372.2" r="3.9" fill="#8cb9dc" stroke="#3f6f9e" stroke-width="1"/><circle cx="398.8" cy="377.7" r="3.9" fill="#8cb9dc" stroke="#3f6f9e" stroke-width="1"/><circle cx="408.8" cy="355.6" r="3.9" fill="#8cb9dc" stroke="#3f6f9e" stroke-width="1"/><circle cx="418.8" cy="395.7" r="3.9" fill="#8cb9dc" stroke="#3f6f9e" stroke-width="1"/><circle cx="428.8" cy="370.3" r="3.9" fill="#8cb9dc" stroke="#3f6f9e" stroke-width="1"/><circle cx="438.8" cy="372.2" r="3.9" fill="#8cb9dc" stroke="#3f6f9e" stroke-width="1"/><circle cx="448.8" cy="391.4" r="3.9" fill="#8cb9dc" stroke="#3f6f9e" stroke-width="1"/><circle cx="458.8" cy="400.5" r="3.9" fill="#8cb9dc" stroke="#3f6f9e" stroke-width="1"/><circle cx="468.8" cy="372.6" r="3.9" fill="#8cb9dc" stroke="#3f6f9e" stroke-width="1"/><circle cx="478.8" cy="381" r="3.9" fill="#8cb9dc" stroke="#3f6f9e" stroke-width="1"/><circle cx="488.8" cy="389.4" r="3.9" fill="#8cb9dc" stroke="#3f6f9e" stroke-width="1"/><circle cx="498.8" cy="393.3" r="3.9" fill="#8cb9dc" stroke="#3f6f9e" stroke-width="1"/><circle cx="508.8" cy="387.5" r="3.9" fill="#8cb9dc" stroke="#3f6f9e" stroke-width="1"/><circle cx="518.8" cy="387.5" r="3.9" fill="#8cb9dc" stroke="#3f6f9e" stroke-width="1"/><circle cx="528.8" cy="388" r="3.9" fill="#8cb9dc" stroke="#3f6f9e" stroke-width="1"/><circle cx="538.8" cy="386.9" r="3.9" fill="#8cb9dc" stroke="#3f6f9e" stroke-width="1"/><circle cx="548.8" cy="388.8" r="3.9" fill="#8cb9dc" stroke="#3f6f9e" stroke-width="1"/><circle cx="558.8" cy="387.7" r="3.9" fill="#8cb9dc" stroke="#3f6f9e" stroke-width="1"/><circle cx="568.8" cy="392.7" r="3.9" fill="#8cb9dc" stroke="#3f6f9e" stroke-width="1"/><path d="M339.2,292.3 L579,292.3 L579,484.2 L339.2,484.2 Z" fill="none" stroke="#505050" stroke-width="1.3"/><text x="335.2" y="487.8" text-anchor="end" font-family="Liberation Sans, sans-serif" font-size="10" fill="#1a1a1a" stroke="#1a1a1a" stroke-width="0.22">0</text><text x="335.2" y="439.8" text-anchor="end" font-family="Liberation Sans, sans-serif" font-size="10" fill="#1a1a1a" stroke="#1a1a1a" stroke-width="0.22">10</text><text x="335.2" y="391.8" text-anchor="end" font-family="Liberation Sans, sans-serif" font-size="10" fill="#1a1a1a" stroke="#1a1a1a" stroke-width="0.22">20</text><text x="335.2" y="343.8" text-anchor="end" font-family="Liberation Sans, sans-serif" font-size="10" fill="#1a1a1a" stroke="#1a1a1a" stroke-width="0.22">30</text><text x="335.2" y="295.8" text-anchor="end" font-family="Liberation Sans, sans-serif" font-size="10" fill="#1a1a1a" stroke="#1a1a1a" stroke-width="0.22">40</text><line x1="358.8" y1="484.2" x2="358.8" y2="487.59999999999997" stroke="#777" stroke-width="1"/><text x="358.8" y="498" text-anchor="middle" font-family="Liberation Sans, sans-serif" font-size="10" fill="#1a1a1a" stroke="#1a1a1a" stroke-width="0.22">0.60</text><line x1="408.8" y1="484.2" x2="408.8" y2="487.59999999999997" stroke="#777" stroke-width="1"/><text x="408.8" y="498" text-anchor="middle" font-family="Liberation Sans, sans-serif" font-size="10" fill="#1a1a1a" stroke="#1a1a1a" stroke-width="0.22">0.65</text><line x1="458.8" y1="484.2" x2="458.8" y2="487.59999999999997" stroke="#777" stroke-width="1"/><text x="458.8" y="498" text-anchor="middle" font-family="Liberation Sans, sans-serif" font-size="10" fill="#1a1a1a" stroke="#1a1a1a" stroke-width="0.22">0.70</text><line x1="508.8" y1="484.2" x2="508.8" y2="487.59999999999997" stroke="#777" stroke-width="1"/><text x="508.8" y="498" text-anchor="middle" font-family="Liberation Sans, sans-serif" font-size="10" fill="#1a1a1a" stroke="#1a1a1a" stroke-width="0.22">0.75</text><line x1="558.8" y1="484.2" x2="558.8" y2="487.59999999999997" stroke="#777" stroke-width="1"/><text x="558.8" y="498" text-anchor="middle" font-family="Liberation Sans, sans-serif" font-size="10" fill="#1a1a1a" stroke="#1a1a1a" stroke-width="0.22">0.80</text><text transform="translate(319.8,387.6) rotate(-90)" text-anchor="middle" font-family="Liberation Sans, sans-serif" font-size="11.9" fill="#1a1a1a" stroke="#1a1a1a" stroke-width="0.22">DOP (%)</text><text x="454" y="515.2" text-anchor="middle" font-family="Liberation Sans, sans-serif" font-size="11.8" fill="#1a1a1a" stroke="#1a1a1a" stroke-width="0.22">Wavelength (μm)</text><rect x="457.5" y="443.3" width="115.5" height="36.5" fill="#fff" stroke="#f0f0f0" stroke-width="0.8"/><circle cx="468.4" cy="449.9" r="3.9" fill="#8cb9dc" stroke="#3f6f9e" stroke-width="1"/><text x="481.6" y="452.9" font-family="Liberation Sans, sans-serif" font-size="9.4" fill="#1a1a1a" stroke="#1a1a1a" stroke-width="0.22">Exp.</text><rect x="458" y="456.2" width="21.4" height="9.8" fill="#e4f2bc"/><text x="481.6" y="464.5" font-family="Liberation Sans, sans-serif" font-size="9.4" fill="#1a1a1a" stroke="#1a1a1a" stroke-width="0.22">95% confidence band</text><line x1="458" y1="472.6" x2="479.4" y2="472.6" stroke="#cc3d8e" stroke-width="1.5"/><text x="481.6" y="476.2" font-family="Liberation Sans, sans-serif" font-size="9.4" fill="#1a1a1a" stroke="#1a1a1a" stroke-width="0.22">Simu.</text></svg></body></html>
